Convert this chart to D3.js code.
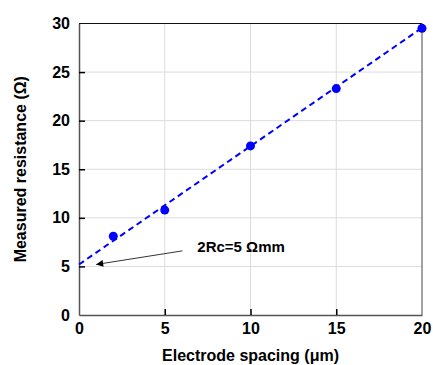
<!DOCTYPE html>
<html><head><meta charset="utf-8">
<script src="https://cdn.jsdelivr.net/npm/d3@7"></script>
<style>body{margin:0;background:#fff}svg{display:block}text{font-family:"Liberation Sans",Arial,sans-serif;font-weight:bold;fill:#000}</style>
</head><body>
<script>
const spacing = [2, 5, 10, 15, 20];
const resistance = [8.1, 10.8, 17.4, 23.3, 29.5];
const fitX = [0, 20];
const fitY = [5.2, 29.55];
const xTicks = [0, 5, 10, 15, 20];
const yTicks = [0, 5, 10, 15, 20, 25, 30];
const annotation = "2Rc=5 Ωmm";

const W = 433, H = 365;
const m = {l: 79, t: 23.5, r: 11, b: 50};
const svg = d3.select("body").append("svg").attr("width", W).attr("height", H);
const x = d3.scaleLinear().domain([0, 20]).range([m.l, W - m.r]);
const y = d3.scaleLinear().domain([0, 30]).range([H - m.b, m.t]);

// grid
svg.append("g").selectAll("line").data(xTicks.slice(1, -1)).join("line")
  .attr("x1", d => x(d)).attr("x2", d => x(d)).attr("y1", y(0)).attr("y2", y(30))
  .attr("stroke", "#dcdcdc").attr("stroke-width", 1);
svg.append("g").selectAll("line").data(yTicks.slice(1, -1)).join("line")
  .attr("y1", d => y(d)).attr("y2", d => y(d)).attr("x1", x(0)).attr("x2", x(20))
  .attr("stroke", "#dcdcdc").attr("stroke-width", 1);

// frame
svg.append("line").attr("x1", x(0)).attr("x2", x(20)).attr("y1", y(30)).attr("y2", y(30)).attr("stroke", "#111").attr("stroke-width", 1.2);
svg.append("line").attr("x1", x(20)).attr("x2", x(20)).attr("y1", y(30)).attr("y2", y(0)).attr("stroke", "#666").attr("stroke-width", 1.2);

// axes
const xAxis = d3.axisBottom(x).tickValues(xTicks).tickSizeInner(-6).tickSizeOuter(0).tickPadding(8);
const yAxis = d3.axisLeft(y).tickValues(yTicks).tickSizeInner(-6).tickSizeOuter(0).tickPadding(9);
const gx = svg.append("g").attr("transform", `translate(0,${y(0)})`).call(xAxis);
const gy = svg.append("g").attr("transform", `translate(${x(0)},0)`).call(yAxis);
[gx, gy].forEach(g => {
  g.select(".domain").attr("stroke", "#555").attr("stroke-width", 1.5);
  g.selectAll(".tick line").attr("stroke", "#000").attr("stroke-width", 1.5);
  g.selectAll(".tick text").style("font-size", "16px").style("font-weight", "bold").attr("fill", "#000");
});
gx.selectAll(".tick").filter(d => d === 0 || d === 20).select("line").remove();
gy.selectAll(".tick").filter(d => d === 0 || d === 30).select("line").remove();

// fit line
svg.append("path").datum(fitX.map((d, i) => [d, fitY[i]]))
  .attr("d", d3.line().x(d => x(d[0])).y(d => y(d[1])))
  .attr("stroke", "#0000ff").attr("stroke-width", 2).attr("fill", "none")
  .attr("stroke-dasharray", "6,4");

// points
svg.append("g").selectAll("circle").data(spacing).join("circle")
  .attr("cx", d => x(d)).attr("cy", (d, i) => y(resistance[i])).attr("r", 4.5)
  .attr("fill", "#0000ff");

// annotation arrow
svg.append("defs").append("marker").attr("id", "ah").attr("viewBox", "0 0 10 10")
  .attr("refX", 10).attr("refY", 5).attr("markerWidth", 9).attr("markerHeight", 7)
  .attr("markerUnits", "userSpaceOnUse").attr("orient", "auto")
  .append("path").attr("d", "M0,0L10,5L0,10Z").attr("fill", "#000");
svg.append("line").attr("x1", x(6.03)).attr("y1", y(6.6)).attr("x2", x(1.0)).attr("y2", y(5.2))
  .attr("stroke", "#000").attr("stroke-width", 0.8).attr("marker-end", "url(#ah)");
svg.append("text").attr("x", x(6.9)).attr("y", y(7.0)).attr("dy", "0.35em")
  .style("font-size", "15px").text(annotation);

// labels
svg.append("text").attr("x", (x(0) + x(20)) / 2).attr("y", 361).attr("text-anchor", "middle")
  .style("font-size", "16px").text("Electrode spacing (μm)");
svg.append("text").attr("transform", `translate(26,${(y(0) + y(30)) / 2}) rotate(-90)`)
  .attr("text-anchor", "middle").style("font-size", "16px").text("Measured resistance (Ω)");
</script>
</body></html>
